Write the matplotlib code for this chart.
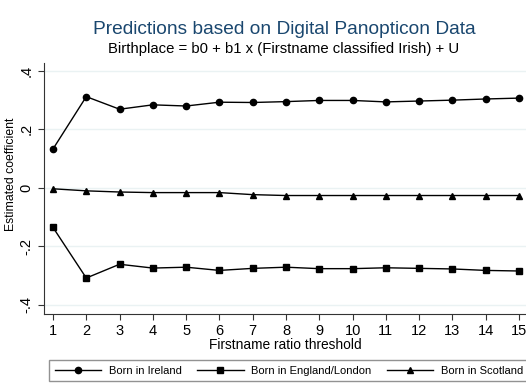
import numpy as np
import matplotlib
matplotlib.use('Agg')
from matplotlib import pyplot as plt

#Data
thresholds = list(range(1, 16))
born_ireland = [0.133, 0.312, 0.269, 0.284, 0.280, 0.293, 0.292, 0.295, 0.299, 0.299, 0.294, 0.297, 0.300, 0.304, 0.307]
born_england = [-0.135, -0.308, -0.261, -0.274, -0.271, -0.282, -0.275, -0.271, -0.276, -0.276, -0.273, -0.275, -0.277, -0.282, -0.284]
born_scotland = [-0.003, -0.010, -0.014, -0.016, -0.016, -0.016, -0.023, -0.026, -0.026, -0.026, -0.026, -0.026, -0.026, -0.026, -0.026]
yticks = [-0.4, -0.2, 0, 0.2, 0.4]
ytick_labels = ['-.4', '-.2', '0', '.2', '.4']

plt.rcParams['font.family'] = ['Liberation Sans', 'DejaVu Sans']

fig = plt.figure(figsize=(5.26, 3.83), dpi=100)
ax = fig.add_axes([44/526, 69/383, 482/526, 251/383])

#Draw the three series
ax.plot(thresholds, born_ireland, color='black', lw=1, marker='o', ms=4.5, label='Born in Ireland')
ax.plot(thresholds, born_england, color='black', lw=1, marker='s', ms=4.5, label='Born in England/London')
ax.plot(thresholds, born_scotland, color='black', lw=1, marker='^', ms=4.5, label='Born in Scotland')

#Axes styling
ax.set_xlim(0.73, 15.21)
ax.set_ylim(-0.431, 0.427)
ax.set_xticks(thresholds)
ax.set_yticks(yticks)
ax.set_yticklabels(ytick_labels, rotation=90, va='center')
ax.tick_params(labelsize=10.5, length=4, color='#333333')
ax.grid(axis='y', color='#eaf2f3', lw=1)
ax.set_axisbelow(True)
for s in ['top', 'right']:
    ax.spines[s].set_visible(False)
for s in ['left', 'bottom']:
    ax.spines[s].set_color('#333333')
ax.set_xlabel('Firstname ratio threshold', fontsize=9.9, labelpad=0)
ax.set_ylabel('Estimated coefficient', fontsize=8.8)
ax.yaxis.set_label_coords(-27/482, 0.558)

#Titles
fig.text(284/526, 1 - 30/383, 'Predictions based on Digital Panopticon Data', color='#1a476f', fontsize=13.8, ha='center', va='center')
fig.text(284/526, 1 - 49/383, 'Birthplace = b0 + b1 x (Firstname classified Irish) + U', color='black', fontsize=10.75, ha='center', va='center')

#Legend
leg = fig.legend(loc='upper left', bbox_to_anchor=(49/526, 1 - 360/383), ncol=3, fontsize=8,
                 frameon=True, fancybox=False, edgecolor='#777777', handlelength=4.2, handletextpad=0.7,
                 columnspacing=1.35, borderaxespad=0, borderpad=0.5)
leg.get_frame().set_linewidth(1)

fig.savefig('out.png', dpi=100)
